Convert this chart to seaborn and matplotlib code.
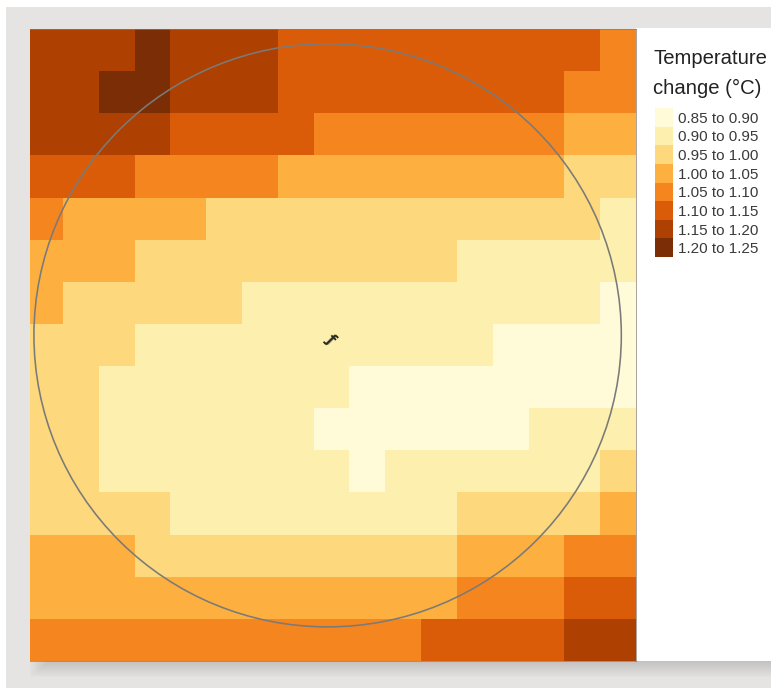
import numpy as np
import pandas as pd
import matplotlib.pyplot as plt
import seaborn as sns
from matplotlib.colors import ListedColormap, BoundaryNorm
from matplotlib.patches import Ellipse, Rectangle

sns.set_theme(style="white")
plt.rcParams["font.family"] = ["Liberation Sans", "DejaVu Sans"]

W, H = 771, 688

# bin edges and legend
bin_edges = [0.85, 0.90, 0.95, 1.00, 1.05, 1.10, 1.15, 1.20, 1.25]
bin_labels = ["0.85 to 0.90", "0.90 to 0.95", "0.95 to 1.00", "1.00 to 1.05",
              "1.05 to 1.10", "1.10 to 1.15", "1.15 to 1.20", "1.20 to 1.25"]
bin_colors = ["#FFFBD9", "#FDEFAD", "#FDD87C", "#FDB03F",
              "#F5851F", "#DA5C09", "#AE4002", "#7B2D05"]
bin_mids = [0.875, 0.925, 0.975, 1.025, 1.075, 1.125, 1.175, 1.225]

# temperature change per grid cell (bin middle), north to south
row_01 = [1.175, 1.175, 1.175, 1.225, 1.175, 1.175, 1.175, 1.125, 1.125, 1.125, 1.125, 1.125, 1.125, 1.125, 1.125, 1.125, 1.075]
row_02 = [1.175, 1.175, 1.225, 1.225, 1.175, 1.175, 1.175, 1.125, 1.125, 1.125, 1.125, 1.125, 1.125, 1.125, 1.125, 1.075, 1.075]
row_03 = [1.175, 1.175, 1.175, 1.175, 1.125, 1.125, 1.125, 1.125, 1.075, 1.075, 1.075, 1.075, 1.075, 1.075, 1.075, 1.025, 1.025]
row_04 = [1.125, 1.125, 1.125, 1.075, 1.075, 1.075, 1.075, 1.025, 1.025, 1.025, 1.025, 1.025, 1.025, 1.025, 1.025, 0.975, 0.975]
row_05 = [1.075, 1.025, 1.025, 1.025, 1.025, 0.975, 0.975, 0.975, 0.975, 0.975, 0.975, 0.975, 0.975, 0.975, 0.975, 0.975, 0.925]
row_06 = [1.025, 1.025, 1.025, 0.975, 0.975, 0.975, 0.975, 0.975, 0.975, 0.975, 0.975, 0.975, 0.925, 0.925, 0.925, 0.925, 0.925]
row_07 = [1.025, 0.975, 0.975, 0.975, 0.975, 0.975, 0.925, 0.925, 0.925, 0.925, 0.925, 0.925, 0.925, 0.925, 0.925, 0.925, 0.875]
row_08 = [0.975, 0.975, 0.975, 0.925, 0.925, 0.925, 0.925, 0.925, 0.925, 0.925, 0.925, 0.925, 0.925, 0.875, 0.875, 0.875, 0.875]
row_09 = [0.975, 0.975, 0.925, 0.925, 0.925, 0.925, 0.925, 0.925, 0.925, 0.875, 0.875, 0.875, 0.875, 0.875, 0.875, 0.875, 0.875]
row_10 = [0.975, 0.975, 0.925, 0.925, 0.925, 0.925, 0.925, 0.925, 0.875, 0.875, 0.875, 0.875, 0.875, 0.875, 0.925, 0.925, 0.925]
row_11 = [0.975, 0.975, 0.925, 0.925, 0.925, 0.925, 0.925, 0.925, 0.925, 0.875, 0.925, 0.925, 0.925, 0.925, 0.925, 0.925, 0.975]
row_12 = [0.975, 0.975, 0.975, 0.975, 0.925, 0.925, 0.925, 0.925, 0.925, 0.925, 0.925, 0.925, 0.975, 0.975, 0.975, 0.975, 1.025]
row_13 = [1.025, 1.025, 1.025, 0.975, 0.975, 0.975, 0.975, 0.975, 0.975, 0.975, 0.975, 0.975, 1.025, 1.025, 1.025, 1.075, 1.075]
row_14 = [1.025, 1.025, 1.025, 1.025, 1.025, 1.025, 1.025, 1.025, 1.025, 1.025, 1.025, 1.025, 1.075, 1.075, 1.075, 1.125, 1.125]
row_15 = [1.075, 1.075, 1.075, 1.075, 1.075, 1.075, 1.075, 1.075, 1.075, 1.075, 1.075, 1.125, 1.125, 1.125, 1.125, 1.175, 1.175]

grid = pd.DataFrame([row_01, row_02, row_03, row_04, row_05, row_06, row_07, row_08,
                     row_09, row_10, row_11, row_12, row_13, row_14, row_15])

cmap = ListedColormap(bin_colors)
norm = BoundaryNorm(bin_edges, cmap.N)


def px_axes(fig, left, top, right, bottom):
    return fig.add_axes([left / W, 1 - bottom / H, (right - left) / W, (bottom - top) / H])


fig = plt.figure(figsize=(W / 100, H / 100), dpi=100, facecolor="white")

# page behind the panel, in pixel coordinates
bg = fig.add_axes([0, 0, 1, 1], zorder=-1)
bg.set_xlim(0, W)
bg.set_ylim(H, 0)
bg.axis("off")
bg.add_patch(Rectangle((6, 7), W - 6, H - 7, color="#E5E4E2", lw=0))
# soft shadow under the panel
for i in range(16):
    bg.add_patch(Rectangle((30 + 1.2 * i, 661), W, 16 - i, color="#8A8A88", alpha=0.025, lw=0))
bg.add_patch(Rectangle((636, 28), W - 636, 633, color="white", lw=0))

# main grid, the first column is cut a little by the panel edge
ax = px_axes(fig, 30, 29, 636, 661)
sns.heatmap(grid, ax=ax, cmap=cmap, norm=norm, cbar=False,
            xticklabels=False, yticklabels=False, linewidths=0)
ax.set_xlim(0.08, 17)
for name, spine in ax.spines.items():
    spine.set_visible(name != "left")
    spine.set_color("#8A7A6A")
    spine.set_alpha(0.7)
    spine.set_linewidth(0.7)

# outline circle and the mark in the middle of it
ax.add_patch(Ellipse((8.39, 7.27), 2 * 8.2, 2 * 6.92, fill=False,
                     edgecolor="#7A7A78", linewidth=1.15))
ax.text(8.47, 7.36, "ƒ", fontsize=11, color="#2A2A20", family="DejaVu Sans", weight="bold",
        rotation=-45, ha="center", va="center")

# legend
lax = px_axes(fig, 655, 108, 673, 257)
sns.heatmap(pd.DataFrame({"bin": bin_mids}), ax=lax, cmap=cmap, norm=norm, cbar=False,
            xticklabels=False, yticklabels=bin_labels, linewidths=0)
lax.yaxis.tick_right()
lax.tick_params(axis="y", length=0, pad=3.5, labelsize=11, labelrotation=0, labelcolor="#3A3A3A")

fig.text(653 / W, 1 - 59 / H, "Temperature", fontsize=14.6, color="#222222", va="center")
fig.text(653 / W, 1 - 88 / H, "change (°C)", fontsize=14.6, color="#222222", va="center")

fig.savefig("out.png", dpi=100)
